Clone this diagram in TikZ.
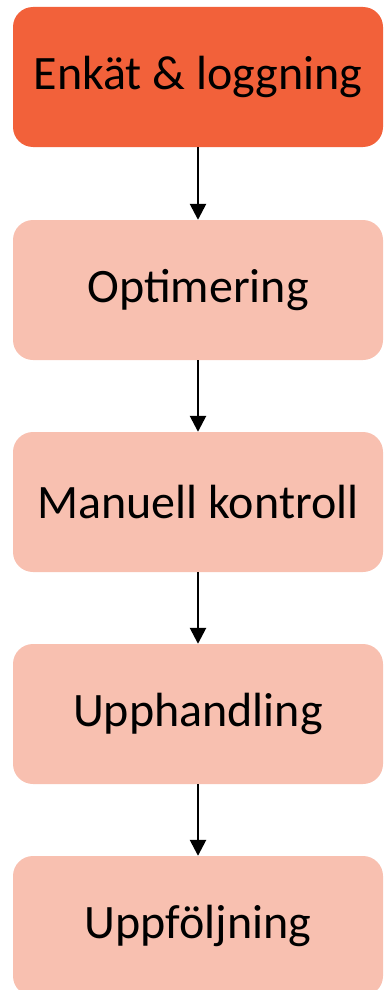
\documentclass[tikz,border=0pt]{standalone}
\usepackage{fontspec}
\setmainfont{Carlito}
\usetikzlibrary{arrows.meta}
\definecolor{darkbox}{HTML}{F2613A}
\definecolor{lightbox}{HTML}{F8C0B0}
\begin{document}
\begin{tikzpicture}[x=1pt,y=-1pt,
  stepbox/.style={rectangle, rounded corners=20pt, minimum width=370pt, minimum height=140pt, inner sep=0pt, font=\fontsize{48}{56}\selectfont, text=black},
  conn/.style={-{Triangle[width=16pt,length=16pt]}, line width=2.6pt, black}]
\path[use as bounding box] (0,0) rectangle (384,990);
\clip (0,0) rectangle (384,990);
\node[stepbox, fill=darkbox] (a) at (198,77) {Enkät \& loggning};
\node[stepbox, fill=lightbox] (b) at (198,290) {Optimering};
\node[stepbox, fill=lightbox] (c) at (198,502) {Manuell kontroll};
\node[stepbox, fill=lightbox] (d) at (198,714) {Upphandling};
\node[stepbox, fill=lightbox] (e) at (198,926) {Uppföljning};
\draw[conn] (a) -- (b);
\draw[conn] (b) -- (c);
\draw[conn] (c) -- (d);
\draw[conn] (d) -- (e);
\end{tikzpicture}
\end{document}
